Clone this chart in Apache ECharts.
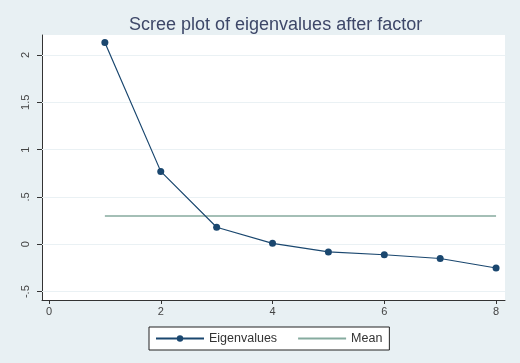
<!DOCTYPE html>
<html>
<head>
<meta charset="utf-8">
<script src="https://cdn.jsdelivr.net/npm/echarts@6/dist/echarts.min.js"></script>
<style>
html,body{margin:0;padding:0;background:#e8f0f3;}
#chart{width:520px;height:363px;}
</style>
</head>
<body>
<div id="chart"></div>
<script>
const components = [1, 2, 3, 4, 5, 6, 7, 8];
const eigenvalues = [2.13, 0.77, 0.18, 0.01, -0.08, -0.11, -0.15, -0.25];
const meanValues = [0.30, 0.30, 0.30, 0.30, 0.30, 0.30, 0.30, 0.30];
const xTicks = [0, 2, 4, 6, 8];
const yTicks = [-0.5, 0, 0.5, 1, 1.5, 2];
const yTickLabels = ['-.5', '0', '.5', '1', '1.5', '2'];

const chart = echarts.init(document.getElementById('chart'), null, {renderer: 'canvas'});
const font = 'Liberation Sans, Arial, sans-serif';
chart.setOption({
  backgroundColor: '#e8f0f3',
  animation: false,
  title: {
    text: 'Scree plot of eigenvalues after factor',
    left: 124, top: 11,
    textStyle: {fontFamily: font, fontSize: 18, fontWeight: 'normal', color: '#3d4768'}
  },
  grid: {left: 42, right: 15, top: 35, bottom: 63, show: true, backgroundColor: '#ffffff', borderWidth: 0},
  legend: {
    left: 149, top: 327,
    padding: [5, 7, 5, 6],
    backgroundColor: '#ffffff', borderColor: '#222', borderWidth: 1, borderRadius: 0,
    itemWidth: 48, itemHeight: 8, itemGap: 20,
    textStyle: {fontFamily: font, fontSize: 12.5, color: '#333'},
    data: [
      {name: 'Eigenvalues'},
      {name: 'Mean', itemStyle: {opacity: 0}}
    ]
  },
  xAxis: {
    type: 'value', min: -0.125, max: 8.16,
    axisLine: {show: true, onZero: false, lineStyle: {color: '#333', width: 1}},
    axisTick: {show: true, length: 4, lineStyle: {color: '#333'}, customValues: xTicks},
    axisLabel: {customValues: xTicks, fontFamily: font, fontSize: 11, color: '#444', margin: 6},
    splitLine: {show: false}
  },
  yAxis: {
    type: 'value', min: -0.588, max: 2.21,
    axisLine: {show: true, onZero: false, lineStyle: {color: '#333', width: 1}},
    axisTick: {show: true, length: 5, lineStyle: {color: '#333'}, customValues: yTicks},
    axisLabel: {
      customValues: yTicks, rotate: 90, fontFamily: font, fontSize: 11, color: '#444', margin: 11,
      formatter: v => { const i = yTicks.findIndex(t => Math.abs(t - v) < 1e-6); return i >= 0 ? yTickLabels[i] : ''; }
    },
    splitLine: {show: false}
  },
  series: [
    {
      name: 'Eigenvalues', type: 'line',
      data: components.map((c, i) => [c, eigenvalues[i]]),
      symbol: 'circle', symbolSize: 7,
      lineStyle: {color: '#1a476f', width: 1.2},
      itemStyle: {color: '#1a476f'},
      z: 5
    },
    {
      name: 'Mean', type: 'line',
      data: components.map((c, i) => [c, meanValues[i]]),
      symbol: 'none',
      lineStyle: {color: '#86ab9f', width: 1.5},
      itemStyle: {color: '#86ab9f'},
      z: 2,
      markLine: {
        silent: true, symbol: 'none', label: {show: false},
        lineStyle: {color: '#eaf1f4', width: 1, type: 'solid'},
        data: yTicks.map(t => ({yAxis: t}))
      }
    }
  ]
});
</script>
</body>
</html>
